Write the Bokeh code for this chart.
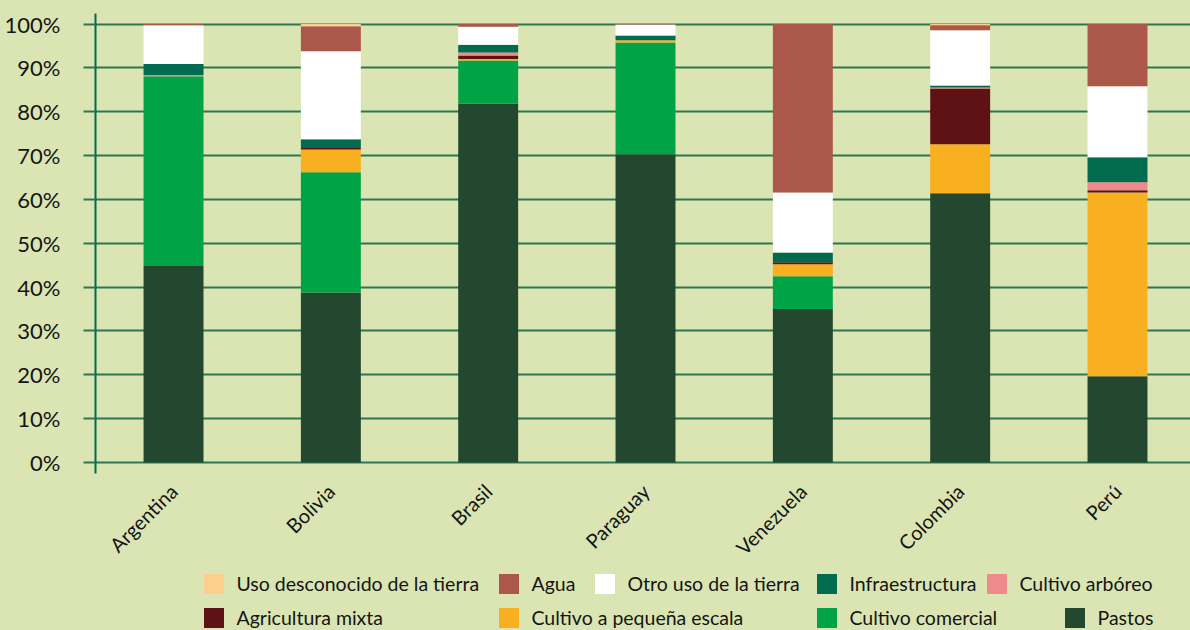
from bokeh.plotting import figure
from bokeh.layouts import column
from bokeh.models import Range1d, FixedTicker, Legend, LegendItem
from bokeh.embed import file_html
from bokeh.resources import INLINE

countries = ["Argentina", "Bolivia", "Brasil", "Paraguay", "Venezuela", "Colombia", "Perú"]

pastos      = [44.8, 38.8, 81.9, 70.3, 35.0, 61.4, 19.7]
comercial   = [43.3, 27.4, 9.8, 25.5, 7.5, 0.0, 0.0]
pequena     = [0.0, 5.2, 0.3, 0.5, 2.7, 11.2, 41.9]
mixta       = [0.0, 0.3, 0.8, 0.0, 0.5, 12.7, 0.5]
arboreo     = [0.3, 0.0, 0.7, 0.0, 0.0, 0.2, 1.8]
infra       = [2.5, 2.0, 1.8, 1.1, 2.2, 0.5, 5.7]
otro        = [8.8, 20.1, 4.1, 2.5, 13.7, 12.6, 16.2]
agua        = [0.3, 5.7, 0.6, 0.1, 38.4, 1.1, 14.2]
desconocido = [0.0, 0.5, 0.0, 0.0, 0.0, 0.3, 0.0]

series_keys = ["pastos", "comercial", "pequena", "mixta", "arboreo", "infra", "otro", "agua", "desconocido"]
series_labels = ["Pastos", "Cultivo comercial", "Cultivo a pequeña escala", "Agricultura mixta",
                 "Cultivo arbóreo", "Infraestructura", "Otro uso de la tierra", "Agua",
                 "Uso desconocido de la tierra"]
colors = ["#23472F", "#00A446", "#F8B020", "#5F1214", "#F08A8A", "#006B4F", "#FFFFFF", "#AB574A", "#FBD08E"]

ytick_values = [0, 10, 20, 30, 40, 50, 60, 70, 80, 90, 100]
ytick_labels = ["0%", "10%", "20%", "30%", "40%", "50%", "60%", "70%", "80%", "90%", "100%"]

BG = "#DAE5B3"
FONT = "Lato"
TXT = "#151515"

xs = list(range(len(countries)))
data = dict(x=xs, pastos=pastos, comercial=comercial, pequena=pequena, mixta=mixta, arboreo=arboreo,
            infra=infra, otro=otro, agua=agua, desconocido=desconocido)

p = figure(width=1190, height=570, output_backend="svg", toolbar_location=None,
           x_range=Range1d(-0.496, 6.464), y_range=Range1d(-2.5, 102.4),
           min_border_left=95, min_border_right=0, min_border_top=13, min_border_bottom=97)
p.background_fill_color = BG
p.border_fill_color = BG
p.outline_line_color = None

p.vbar_stack(series_keys, x="x", width=0.381, color=colors, line_color=None, source=data)

# axes
p.xaxis.ticker = FixedTicker(ticks=xs)
p.xaxis.major_label_overrides = {i: c for i, c in enumerate(countries)}
p.xaxis.major_label_orientation = 0.785398
p.xaxis.axis_line_color = None
p.xaxis.major_tick_line_color = None
p.xaxis.minor_tick_line_color = None
p.xaxis.major_label_text_font = FONT
p.xaxis.major_label_text_font_size = "20px"
p.xaxis.major_label_text_color = TXT
p.xaxis.major_label_standoff = 8

p.yaxis.ticker = FixedTicker(ticks=ytick_values)
p.yaxis.major_label_overrides = {v: l for v, l in zip(ytick_values, ytick_labels)}
p.yaxis.axis_line_color = "#006B4F"
p.yaxis.axis_line_width = 2
p.yaxis.major_tick_line_color = "#2D7653"
p.yaxis.major_tick_line_width = 2
p.yaxis.major_tick_out = 12
p.yaxis.major_tick_in = 0
p.yaxis.minor_tick_line_color = None
p.yaxis.major_label_text_font = FONT
p.yaxis.major_label_text_font_size = "22px"
p.yaxis.major_label_text_color = TXT
p.yaxis.major_label_standoff = 23

p.xgrid.grid_line_color = None
p.ygrid.ticker = FixedTicker(ticks=ytick_values)
p.ygrid.grid_line_color = "#2D7653"
p.ygrid.grid_line_width = 2

# legend strip: a second figure holding one legend per item
lf = figure(width=1190, height=60, output_backend="svg", toolbar_location=None,
            x_range=Range1d(0, 1), y_range=Range1d(0, 1),
            x_axis_location=None, y_axis_location=None,
            min_border_left=0, min_border_right=0, min_border_top=0, min_border_bottom=0)
lf.grid.grid_line_color = None
lf.outline_line_color = None
lf.background_fill_color = BG
lf.border_fill_color = BG

# zero-height swatch carriers (nothing visible is drawn by them)
dummies = [lf.vbar(x=[0.5], top=[0], width=0.1, color=c, line_color=None) for c in colors]

# frame is aligned with the chart frame (starts 95px from the left)
positions = {8: (105.5, 34.5), 7: (400.5, 34.5), 6: (496.5, 34.5), 5: (718.5, 34.5), 4: (888.5, 34.5),
             3: (105.5, 0.5), 2: (400.5, 0.5), 1: (718.5, 0.5), 0: (966.5, 0.5)}
for idx in [8, 7, 6, 5, 4, 3, 2, 1, 0]:
    lg = Legend(items=[LegendItem(label=series_labels[idx], renderers=[dummies[idx]])],
                location=positions[idx], orientation="horizontal",
                background_fill_alpha=0, border_line_alpha=0, margin=0, padding=0,
                glyph_width=25, glyph_height=25, label_standoff=11,
                label_text_font=FONT, label_text_font_size="19.5px", label_text_color=TXT,
                label_height=25)
    lf.add_layout(lg, "center")

layout = column(p, lf, spacing=0)
html = file_html(layout, INLINE)
html = html.replace("<head>", "<head><style>body{background:%s;}</style>" % BG, 1)
open("out.html", "w").write(html)
